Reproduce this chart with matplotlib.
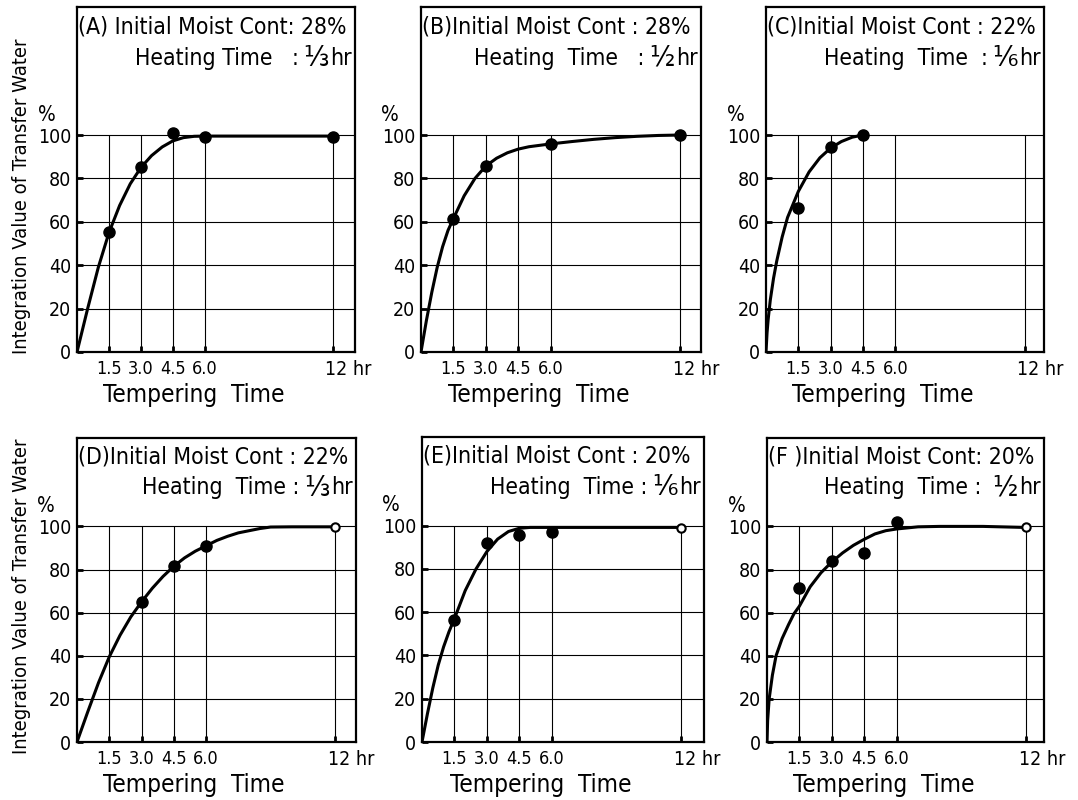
import matplotlib
matplotlib.use("Agg")
import matplotlib.pyplot as plt
import matplotlib.transforms as mtransforms

plt.rcParams["font.family"] = ["DejaVu Sans"]
plt.rcParams["font.stretch"] = "condensed"

# grid positions on the time axis (hr)
tick_hours = [1.5, 3.0, 4.5, 6.0, 12.0]
tick_labels = ["1.5", "3.0", "4.5", "6.0", ""]
y_ticks = [0, 20, 40, 60, 80, 100]

panel_ids = ["A", "B", "C", "D", "E", "F"]
line1 = [
    "(A) Initial Moist Cont: 28%",
    "(B)Initial Moist Cont : 28%",
    "(C)Initial Moist Cont : 22%",
    "(D)Initial Moist Cont : 22%",
    "(E)Initial Moist Cont : 20%",
    "(F )Initial Moist Cont: 20%",
]
line2 = [
    "Heating Time   : ",
    "Heating  Time   : ",
    "Heating  Time  : ",
    "Heating  Time : ",
    "Heating  Time : ",
    "Heating  Time :  ",
]
heat_frac = ["⅓", "½", "⅙", "⅓", "⅙", "½"]

# measured points (tempering time hr, % of transfer water)
pts_x = {
    "A": [1.5, 3.0, 4.5, 6.0, 12.0],
    "B": [1.5, 3.0, 6.0, 12.0],
    "C": [1.5, 3.0, 4.5],
    "D": [3.0, 4.5, 6.0],
    "E": [1.5, 3.0, 4.5, 6.0],
    "F": [1.5, 3.0, 4.5, 6.0],
}
pts_y = {
    "A": [55.4, 85.4, 101.0, 99.0, 99.0],
    "B": [61.5, 85.7, 95.7, 100.0],
    "C": [66.4, 94.3, 100.0],
    "D": [65.0, 81.5, 91.0],
    "E": [56.6, 91.8, 95.7, 97.2],
    "F": [71.5, 84.0, 87.7, 102.0],
}
# open markers at 12 hr
open_x = {"D": [12.0], "E": [12.0], "F": [12.0]}
open_y = {"D": [99.5], "E": [99.0], "F": [99.5]}

# fitted curves
curve_x = {
    "A": [0, 0.5, 1.0, 1.5, 2.0, 2.5, 3.0, 3.5, 4.0, 4.5, 5.0, 5.5, 6.0, 9.0, 12.0],
    "B": [0, 0.25, 0.5, 0.75, 1.0, 1.25, 1.5, 2.0, 2.5, 3.0, 3.5, 4.0, 4.5, 5.0, 6.0, 7.0, 8.0, 9.0, 10.0, 11.0, 12.0],
    "C": [0, 0.05, 0.1, 0.2, 0.35, 0.5, 0.75, 1.0, 1.5, 2.0, 2.5, 3.0, 3.5, 4.0, 4.5],
    "D": [0, 0.5, 1.0, 1.5, 2.0, 2.5, 3.0, 3.5, 4.0, 4.5, 5.0, 5.5, 6.0, 6.5, 7.0, 7.5, 8.0, 8.5, 9.0, 10.0, 12.0],
    "E": [0, 0.25, 0.5, 0.75, 1.0, 1.25, 1.5, 2.0, 2.5, 3.0, 3.5, 4.0, 4.5, 5.0, 6.0, 12.0],
    "F": [0, 0.03, 0.1, 0.25, 0.42, 0.7, 1.0, 1.25, 1.5, 2.0, 2.5, 3.0, 3.5, 4.0, 4.5, 5.0, 5.5, 6.0, 7.0, 8.0, 10.0, 12.0],
}
curve_y = {
    "A": [0, 20, 39, 55, 67.5, 77.5, 85, 90.5, 94.5, 97.3, 98.8, 99.4, 99.5, 99.5, 99.5],
    "B": [0, 14.5, 27.5, 39, 48.5, 56, 61.5, 72, 80, 85.7, 89.3, 91.8, 93.5, 94.6, 95.9, 97, 98, 98.8, 99.4, 99.8, 100],
    "C": [0, 9, 15, 24, 34, 42, 53, 62, 74, 83, 89.5, 94, 97, 99, 100],
    "D": [0, 14, 27.5, 39.5, 49.5, 58, 65, 71.3, 76.8, 81.5, 85.4, 88.5, 91, 93.5, 95.4, 97, 98, 99, 99.7, 99.8, 99.8],
    "E": [0, 13, 25, 35.5, 44, 51, 57, 70, 80, 88, 93.8, 97.3, 98.8, 99.2, 99.2, 99.2],
    "F": [0, 10, 20, 31, 40, 48, 54.5, 59.5, 63, 72, 78.5, 83.5, 87.7, 91.2, 94, 96.5, 98, 98.8, 99.8, 100, 100, 99.5],
}

# axes boxes in pixels: left, top, right, bottom
W, H = 1078, 800
boxes = {
    "A": (77, 7, 355, 352),
    "B": (421, 7, 701, 352),
    "C": (766, 7, 1044, 352),
    "D": (77, 438, 356, 742),
    "E": (422, 437, 704, 742),
    "F": (767, 438, 1044, 742),
}
y_top = {"A": 159, "B": 159, "C": 159, "D": 141, "E": 141, "F": 141}
x_right = {"A": 13.05, "B": 12.97, "C": 12.9, "D": 12.97, "E": 13.05, "F": 12.83}

fig = plt.figure(figsize=(W / 100, H / 100), dpi=100)

for i, p in enumerate(panel_ids):
    l, t, r, b = boxes[p]
    ax = fig.add_axes([l / W, 1 - b / H, (r - l) / W, (b - t) / H])
    ax.set_xlim(0, x_right[p])
    ax.set_ylim(0, y_top[p])
    k = 159 / y_top[p]

    for yv in y_ticks[1:]:
        ax.axhline(yv, color="black", lw=0.8, zorder=1)
    ax.vlines(tick_hours, 0, 100, color="black", lw=0.8, zorder=1)

    ax.plot(curve_x[p], curve_y[p], color="black", lw=2.2, zorder=3)
    ax.plot(pts_x[p], pts_y[p], "o", color="black", ms=8, zorder=4)
    if p in open_x:
        ax.plot(open_x[p], open_y[p], "o", mfc="white", mec="black", mew=1.5, ms=6, zorder=4)

    ax.set_xticks(tick_hours, tick_labels)
    ax.set_yticks(y_ticks, [str(v) for v in y_ticks])
    ax.tick_params(axis="x", direction="in", length=4, width=2, labelsize=13, pad=6)
    ax.tick_params(axis="y", direction="in", length=4, width=2, labelsize=14, pad=4)
    for s in ax.spines.values():
        s.set_linewidth(1.6)

    trans = mtransforms.blended_transform_factory(ax.transData, ax.transAxes)
    ax.annotate("12 hr", (11.65, 0), xycoords=trans, xytext=(0, -6), textcoords="offset points",
                ha="left", va="top", fontsize=14)
    ax.text(0.42, -0.09 * k, "Tempering  Time", transform=ax.transAxes,
            ha="center", va="top", fontsize=17.5)
    ax.text(-0.11, 100 / y_top[p] + 0.03 * k, "%", transform=ax.transAxes,
            ha="center", va="bottom", fontsize=15)

    ax.text(0.005, 0.975, line1[i], transform=ax.transAxes,
            ha="left", va="top", fontsize=16.5)
    # heating time line: label, large fraction, unit
    y2 = 0.975 - 0.09 * k
    ax.annotate("hr", (0.99, y2), xycoords="axes fraction", xytext=(0, 0), textcoords="offset points",
                ha="right", va="top", fontsize=16.5)
    ax.annotate(heat_frac[i], (0.99, y2), xycoords="axes fraction", xytext=(-17, 2), textcoords="offset points",
                ha="right", va="top", fontsize=21)
    ax.annotate(line2[i], (0.99, y2), xycoords="axes fraction", xytext=(-34, 0), textcoords="offset points",
                ha="right", va="top", fontsize=16.5)

fig.text(22 / W, 1 - 196 / H, "Integration Value of Transfer Water", rotation=90,
         ha="center", va="center", fontsize=14.5)
fig.text(22 / W, 1 - 596 / H, "Integration Value of Transfer Water", rotation=90,
         ha="center", va="center", fontsize=14.5)

fig.savefig("out.png", dpi=100)
